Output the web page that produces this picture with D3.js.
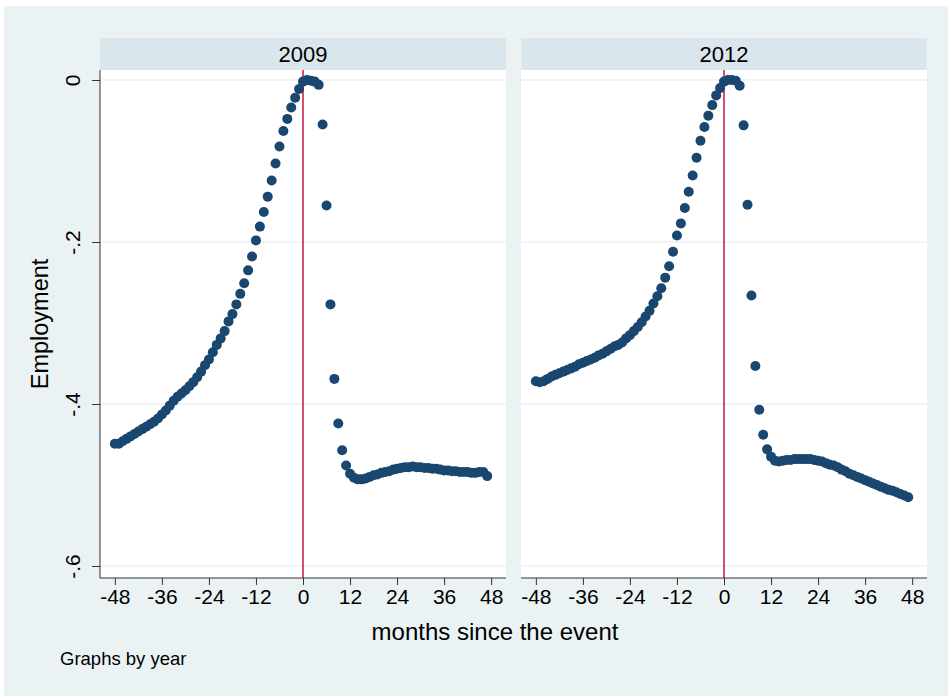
<!DOCTYPE html>
<html>
<head>
<meta charset="utf-8">
<script src="https://cdnjs.cloudflare.com/ajax/libs/d3/7.8.5/d3.min.js"></script>
<style>
  body { margin: 0; background: #fff; }
  text { font-family: "Liberation Sans", Arial, sans-serif; fill: #000; }
</style>
</head>
<body>
<script>
// months relative to the event
var months = d3.range(-48, 48);

// panel titles
var years = ["2009", "2012"];

// employment, one value per month
var emp2009 = [
  -0.449, -0.449, -0.446, -0.443, -0.440, -0.437, -0.434, -0.431, -0.428, -0.425,
  -0.422, -0.418, -0.413, -0.408, -0.402, -0.396, -0.391, -0.387, -0.383, -0.378,
  -0.373, -0.367, -0.360, -0.352, -0.345, -0.336, -0.327, -0.319, -0.310, -0.298,
  -0.289, -0.277, -0.264, -0.251, -0.235, -0.218, -0.198, -0.181, -0.163, -0.144,
  -0.124, -0.103, -0.082, -0.063, -0.048, -0.034, -0.022, -0.011, -0.002,  0.000,
  -0.001, -0.002, -0.006, -0.055, -0.155, -0.277, -0.369, -0.424, -0.457, -0.476,
  -0.486, -0.491, -0.493, -0.493, -0.492, -0.490, -0.488, -0.487, -0.485, -0.484,
  -0.483, -0.481, -0.480, -0.479, -0.478, -0.478, -0.477, -0.478, -0.478, -0.479,
  -0.479, -0.480, -0.480, -0.481, -0.482, -0.482, -0.483, -0.483, -0.484, -0.484,
  -0.484, -0.485, -0.485, -0.484, -0.484, -0.489
];

var emp2012 = [
  -0.372, -0.373, -0.372, -0.369, -0.366, -0.364, -0.362, -0.360, -0.358, -0.356,
  -0.354, -0.351, -0.349, -0.347, -0.345, -0.343, -0.340, -0.338, -0.335, -0.332,
  -0.329, -0.327, -0.324, -0.319, -0.315, -0.310, -0.305, -0.299, -0.292, -0.285,
  -0.276, -0.267, -0.257, -0.244, -0.230, -0.212, -0.192, -0.177, -0.158, -0.138,
  -0.118, -0.096, -0.075, -0.058, -0.044, -0.031, -0.019, -0.010, -0.002,  0.000,
   0.000, -0.001, -0.007, -0.056, -0.154, -0.266, -0.353, -0.407, -0.438, -0.456,
  -0.465, -0.470, -0.471, -0.470, -0.469, -0.469, -0.468, -0.468, -0.468, -0.468,
  -0.468, -0.469, -0.470, -0.471, -0.473, -0.475, -0.476, -0.478, -0.481, -0.483,
  -0.486, -0.488, -0.490, -0.492, -0.494, -0.496, -0.498, -0.500, -0.502, -0.504,
  -0.506, -0.507, -0.509, -0.511, -0.513, -0.515
];

// axis ticks
var xTicks = [-48, -36, -24, -12, 0, 12, 24, 36, 48];
var yTicks = [0, -0.2, -0.4, -0.6];
var yTickLabels = ["0", "-.2", "-.4", "-.6"];

var series = [emp2009, emp2012];

// canvas
var W = 948, H = 696;
var panelW = 406, panelH = 508, panelTop = 70, headH = 32;
var panelLeft = [100, 521];

var svg = d3.select("body").append("svg")
    .attr("width", W)
    .attr("height", H);

// graph region background
svg.append("rect")
    .attr("x", 4)
    .attr("y", 6)
    .attr("width", W - 4)
    .attr("height", H - 6)
    .attr("fill", "#eaf2f3");

var x = d3.scaleLinear().domain([-51.79, 51.79]).range([0, panelW]);
var y = d3.scaleLinear().domain([0.01235, -0.6148]).range([0, panelH]);

series.forEach(function(vals, i) {
  var g = svg.append("g")
      .attr("transform", "translate(" + panelLeft[i] + "," + panelTop + ")");

  // header strip with the year
  g.append("rect")
      .attr("x", 0)
      .attr("y", -headH)
      .attr("width", panelW)
      .attr("height", headH)
      .attr("fill", "#d9e6eb");
  g.append("text")
      .attr("x", panelW / 2)
      .attr("y", -headH / 2)
      .attr("dy", "0.36em")
      .attr("text-anchor", "middle")
      .style("font-size", "22px")
      .text(years[i]);

  // plot area
  g.append("rect")
      .attr("width", panelW)
      .attr("height", panelH)
      .attr("fill", "#fff");

  // gridlines
  g.selectAll(".grid")
      .data(yTicks)
    .enter().append("line")
      .attr("x1", 0)
      .attr("x2", panelW)
      .attr("y1", function(d) { return y(d); })
      .attr("y2", function(d) { return y(d); })
      .attr("stroke", "#eaf2f3")
      .attr("stroke-width", 1.5);

  // event line
  g.append("line")
      .attr("x1", x(0))
      .attr("x2", x(0))
      .attr("y1", 0)
      .attr("y2", panelH)
      .attr("stroke", "#c8163a")
      .attr("stroke-width", 1.5);

  // dots
  g.selectAll(".dot")
      .data(months.map(function(m, j) { return {m: m, v: vals[j]}; }))
    .enter().append("circle")
      .attr("cx", function(d) { return x(d.m); })
      .attr("cy", function(d) { return y(d.v); })
      .attr("r", 5)
      .attr("fill", "#1a476f");

  // x axis (plain hyphen for negatives, like the original)
  var xAxis = d3.axisBottom(x).tickValues(xTicks).tickSize(7).tickPadding(4)
      .tickFormat(function(d) { return String(d); });
  var xa = g.append("g")
      .attr("transform", "translate(0," + panelH + ")")
      .call(xAxis);
  xa.select(".domain").attr("stroke", "#333").attr("d", "M0,0H" + panelW);
  xa.selectAll(".tick line").attr("stroke", "#333");
  xa.selectAll(".tick text").style("font-size", "21px").attr("fill", "#000")
      .style("font-family", "Liberation Sans, Arial, sans-serif");

  // y axis only on the first panel
  if (i === 0) {
    var yAxis = d3.axisLeft(y).tickValues(yTicks).tickSize(8)
        .tickFormat(function(d, k) { return yTickLabels[k]; });
    var ya = g.append("g").call(yAxis);
    ya.select(".domain").attr("stroke", "#333").attr("d", "M0,0V" + panelH);
    ya.selectAll(".tick line").attr("stroke", "#333");
    ya.selectAll(".tick text")
        .style("font-size", "21px")
        .style("font-family", "Liberation Sans, Arial, sans-serif")
        .attr("fill", "#000")
        .attr("x", 0)
        .attr("dy", 0)
        .attr("text-anchor", "middle")
        .attr("transform", "translate(-20,0) rotate(-90)");
  }
});

// axis titles
svg.append("text")
    .attr("transform", "translate(48," + (panelTop + panelH / 2) + ") rotate(-90)")
    .attr("text-anchor", "middle")
    .style("font-size", "23.5px")
    .text("Employment");

svg.append("text")
    .attr("x", 495)
    .attr("y", 640)
    .attr("text-anchor", "middle")
    .style("font-size", "24px")
    .text("months since the event");

svg.append("text")
    .attr("x", 60)
    .attr("y", 665)
    .style("font-size", "18.5px")
    .text("Graphs by year");
</script>
</body>
</html>
